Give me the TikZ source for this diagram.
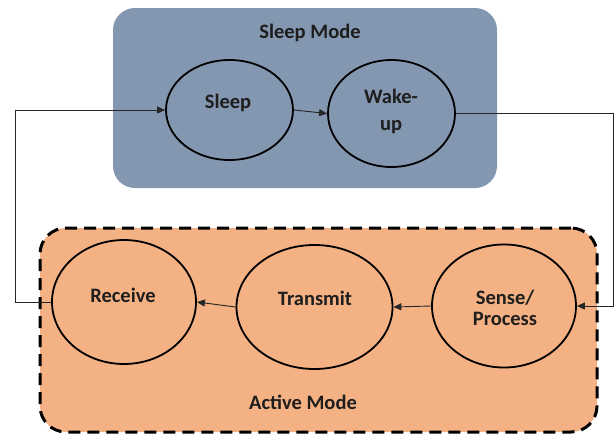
\documentclass[tikz,border=0pt]{standalone}
\usepackage{fontspec}
\setmainfont{Carlito}
\usetikzlibrary{shapes.geometric,arrows.meta}
\definecolor{sleepfill}{HTML}{8497B0}
\definecolor{activefill}{HTML}{F4B183}
\definecolor{txt}{HTML}{1E1E1E}
\begin{document}
\begin{tikzpicture}[x=1pt,y=-1pt,
  lbl/.style={font=\fontsize{20.5}{23}\selectfont\bfseries, text=txt, align=center, inner sep=0pt},
  state/.style={ellipse, draw=black, line width=1.8pt, inner sep=0pt},
  conn/.style={draw=black!85, line width=0.9pt},
  arr/.style={conn, -{Triangle[length=8pt,width=7pt]}}]
\useasboundingbox (0,0) rectangle (615,434);
% group boxes
\node[rectangle, rounded corners=22pt, fill=sleepfill, minimum width=384pt, minimum height=180pt, inner sep=0pt] (sleepbox) at (305,98) {};
\node[rectangle, rounded corners=26pt, fill=activefill, draw=black, line width=3pt, dash pattern=on 12pt off 7pt, minimum width=557pt, minimum height=204pt, inner sep=0pt] (activebox) at (318.5,330) {};
\node[lbl] (sleeplbl) at (310,33) {Sleep Mode};
\node[lbl] (activelbl) at (303,402) {Active Mode};
% states
\node[state, minimum width=127pt, minimum height=100pt] (sleep) at (229.5,110) {};
\node[state, minimum width=127pt, minimum height=107pt] (wake) at (391.5,113.5) {};
\node[state, minimum width=144pt, minimum height=124pt] (receive) at (124,302) {};
\node[state, minimum width=156pt, minimum height=124pt] (transmit) at (314.5,307) {};
\node[state, minimum width=144pt, minimum height=123pt] (sense) at (504,306) {};
% state texts
\node[lbl] (sleeptxt) at (228,103) {Sleep};
\node[lbl] (waketxt) at (391,111.5) {Wake-\\[4pt]up};
\node[lbl] (receivetxt) at (123,295) {Receive};
\node[lbl] (transmittxt) at (315,298) {Transmit};
\node[lbl] (sensetxt) at (505,307.5) {Sense/\\[-2pt]Process};
% side coordinates
\coordinate (lb) at (15,0);
\coordinate (rb) at (613,0);
% connectors
\draw[arr] (sleep.east) -- (wake.west);
\draw[arr] (sense.west) -- (transmit.east);
\draw[arr] (transmit.west) -- (receive.east);
\draw[arr] (receive.west) -- (receive.west -| lb) |- (sleep.west);
\draw[arr] (wake.east) -- (wake.east -| rb) |- (sense.east);
\end{tikzpicture}
\end{document}
